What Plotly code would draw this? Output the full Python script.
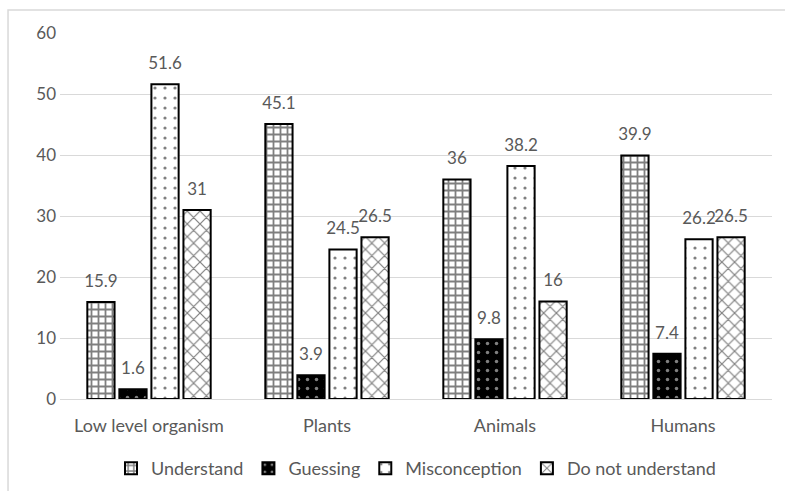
import plotly.graph_objects as go

categories = ["Low level organism", "Plants", "Animals", "Humans"]
understand = [15.9, 45.1, 36, 39.9]
guessing = [1.6, 3.9, 9.8, 7.4]
misconception = [51.6, 24.5, 38.2, 26.2]
not_understand = [31, 26.5, 16, 26.5]
series_names = ["Understand", "Guessing", "Misconception", "Do not understand"]
y_ticks = [0, 10, 20, 30, 40, 50, 60]

FONT = "Lato"
GRAY = "#595959"

patterns = [
    dict(shape="+", fgcolor="black", bgcolor="white", size=7, solidity=0.45),
    dict(shape=".", fgcolor="white", bgcolor="black", size=9, solidity=0.12),
    dict(shape=".", fgcolor="black", bgcolor="white", size=10, solidity=0.08),
    dict(shape="x", fgcolor="black", bgcolor="white", size=9, solidity=0.25),
]

all_vals = [understand, guessing, misconception, not_understand]

fig = go.Figure()
for i, (name, vals, pat) in enumerate(zip(series_names, all_vals, patterns)):
    fig.add_trace(go.Bar(
        name=name, x=categories, y=vals, offsetgroup=str(i),
        marker=dict(color=pat["bgcolor"], pattern=pat, line=dict(color="black", width=2)),
        cliponaxis=False,
    ))
for i, (name, vals) in enumerate(zip(series_names, all_vals)):
    fig.add_trace(go.Scatter(
        x=categories, y=vals, offsetgroup=str(i), mode="markers+text",
        text=[f"{v:g}" for v in vals], textposition="top center",
        textfont=dict(family=FONT, size=17, color=GRAY),
        marker=dict(size=16, opacity=0), showlegend=False, hoverinfo="skip",
        cliponaxis=False,
    ))

fig.update_layout(
    width=785, height=491,
    margin=dict(l=60, r=13, t=33, b=92, autoexpand=False),
    paper_bgcolor="white", plot_bgcolor="white",
    barmode="group", bargap=0.28, bargroupgap=0.15,
    scattermode="group", scattergap=0.28,
    font=dict(family=FONT, size=17, color=GRAY),
    showlegend=True,
    legend=dict(orientation="h", x=0.5, xanchor="center", y=-0.19, yanchor="middle",
                font=dict(family=FONT, size=18, color=GRAY), traceorder="normal"),
    xaxis=dict(showgrid=False, showline=True, linecolor="#d9d9d9", linewidth=1,
               ticks="", ticklabelstandoff=10,
               tickfont=dict(family=FONT, size=18, color=GRAY)),
    yaxis=dict(range=[0, 60], tickvals=y_ticks, showgrid=True, gridcolor="#d9d9d9",
               gridwidth=1, zeroline=False, showline=False, ticks="",
               ticklabelstandoff=3,
               tickfont=dict(family=FONT, size=17, color=GRAY)),
    shapes=[dict(type="rect", xref="paper", yref="paper", x0=-0.073, x1=1.1, y0=-0.5, y1=1.063,
                 line=dict(color="#d9d9d9", width=1.5), fillcolor="rgba(0,0,0,0)", layer="below")],
)

fig.write_html("out.html")
